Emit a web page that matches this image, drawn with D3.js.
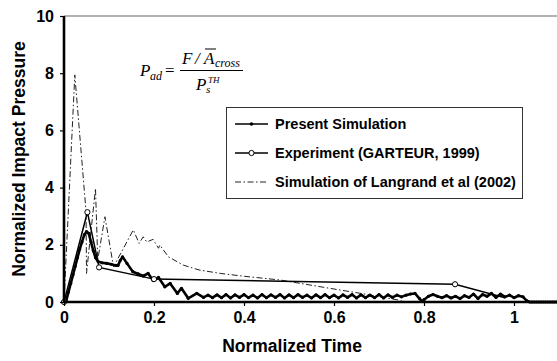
<!DOCTYPE html>
<html>
<head>
<meta charset="utf-8">
<script src="https://cdn.jsdelivr.net/npm/d3@7"></script>
<style>
  body { margin: 0; background: #fff; }
  svg { display: block; font-family: "Liberation Sans", Arial, sans-serif; }
</style>
</head>
<body>
<div id="chart"></div>
<script>
// Present simulation [time, pressure]
const presentSim = [
    [0, 0], [0.005, 0.05], [0.01, 0.35], [0.015, 0.65], [0.02, 0.95], [0.025, 1.25],
    [0.03, 1.55], [0.035, 1.85], [0.04, 2.1], [0.045, 2.35], [0.05, 2.46], [0.055, 2.4],
    [0.06, 2.1], [0.065, 1.8], [0.07, 1.55], [0.076, 1.41], [0.085, 1.37], [0.095, 1.35],
    [0.105, 1.32], [0.115, 1.28], [0.12, 1.28], [0.125, 1.45], [0.13, 1.58], [0.14, 1.35],
    [0.153, 1.06], [0.165, 0.98], [0.176, 0.91], [0.187, 1.0], [0.198, 0.75], [0.21, 0.86],
    [0.224, 0.53], [0.236, 0.65], [0.252, 0.30], [0.261, 0.48], [0.276, 0.13], [0.295, 0.30],
    [0.31, 0.16], [0.32, 0.24], [0.33, 0.15], [0.34, 0.25], [0.35, 0.15], [0.36, 0.26],
    [0.37, 0.14], [0.38, 0.25], [0.39, 0.16], [0.40, 0.26], [0.41, 0.15], [0.42, 0.24],
    [0.43, 0.14], [0.44, 0.26], [0.45, 0.15], [0.46, 0.25], [0.47, 0.16], [0.48, 0.26],
    [0.49, 0.14], [0.50, 0.25], [0.51, 0.15], [0.52, 0.26], [0.53, 0.16], [0.54, 0.24],
    [0.55, 0.14], [0.56, 0.25], [0.57, 0.15], [0.58, 0.26], [0.59, 0.15], [0.60, 0.24],
    [0.61, 0.14], [0.62, 0.25], [0.63, 0.16], [0.64, 0.26], [0.65, 0.14], [0.66, 0.25],
    [0.67, 0.15], [0.68, 0.24], [0.69, 0.15], [0.70, 0.26], [0.71, 0.14], [0.72, 0.25],
    [0.73, 0.16], [0.74, 0.24], [0.75, 0.18], [0.76, 0.24], [0.77, 0.28], [0.78, 0.30],
    [0.79, 0.12], [0.795, 0.02], [0.80, 0.08], [0.81, 0.2], [0.82, 0.26], [0.83, 0.2],
    [0.84, 0.15], [0.85, 0.22], [0.86, 0.14], [0.87, 0.2], [0.88, 0.12], [0.89, 0.22],
    [0.90, 0.16], [0.91, 0.28], [0.92, 0.12], [0.93, 0.26], [0.94, 0.2], [0.95, 0.3],
    [0.96, 0.16], [0.97, 0.28], [0.98, 0.18], [0.99, 0.24], [1.0, 0.15], [1.01, 0.22],
    [1.02, 0.18], [1.028, 0.05], [1.035, 0], [1.04, 0], [1.045, 0], [1.05, 0], [1.055, 0],
    [1.06, 0], [1.065, 0], [1.07, 0], [1.075, 0], [1.08, 0], [1.085, 0], [1.09, 0],
    [1.095, 0], [1.1, 0]
]

// Experiment (GARTEUR, 1999); the last point ends inside the noise, no marker shown
const experiment = [
    [0, 0], [0.052, 3.14], [0.078, 1.21], [0.2, 0.8], [0.869, 0.62], [0.98, 0.15]
]

// Simulation of Langrand et al (2002)
const langrand = [
    [0, 0], [0.024, 7.94], [0.049, 3.16], [0.05, 1.0], [0.07, 3.97], [0.075, 1.47],
    [0.091, 2.98], [0.11, 1.23], [0.154, 2.52], [0.167, 2.05], [0.176, 2.28], [0.184, 2.1],
    [0.198, 2.19], [0.21, 1.88], [0.213, 1.99], [0.232, 1.58], [0.265, 1.29], [0.30, 1.12],
    [0.347, 1.0], [0.40, 0.9], [0.48, 0.77], [0.59, 0.48], [0.66, 0.30], [0.75, 0.05]
]

const xTicks = [0, 0.2, 0.4, 0.6, 0.8, 1]
const yTicks = [0, 2, 4, 6, 8, 10]
const legendLabels = ["Present Simulation", "Experiment (GARTEUR, 1999)", "Simulation of Langrand et al (2002)"]

const width = 557
const height = 361
const margin = { top: 16, right: -2, bottom: 59, left: 64 }

const svg = d3.select("#chart").append("svg")
    .attr("width", width)
    .attr("height", height)

const xScale = d3.scaleLinear()
    .domain([0, 1.1])
    .range([margin.left, width - margin.right])
const yScale = d3.scaleLinear()
    .domain([0, 10])
    .range([height - margin.bottom, margin.top])

// top frame line
svg.append("line")
    .attr("x1", margin.left).attr("x2", width)
    .attr("y1", yScale(10)).attr("y2", yScale(10))
    .attr("stroke", "#666").attr("stroke-width", 1.2)

const line = d3.line()
    .x(d => xScale(d[0]))
    .y(d => yScale(d[1]))

// Langrand (dash-dot)
svg.append("path")
    .datum(langrand)
    .attr("d", line)
    .attr("fill", "none")
    .attr("stroke", "#222")
    .attr("stroke-width", 1)
    .attr("stroke-dasharray", "6,2.5,1.5,2.5")

// Experiment
svg.append("path")
    .datum(experiment)
    .attr("d", line)
    .attr("fill", "none")
    .attr("stroke", "#000")
    .attr("stroke-width", 1.5)

// Present simulation
svg.append("path")
    .datum(presentSim)
    .attr("d", line)
    .attr("fill", "none")
    .attr("stroke", "#000")
    .attr("stroke-width", 2.6)
    .attr("stroke-linejoin", "round")
svg.append("g")
    .selectAll("circle")
    .data(presentSim)
    .enter()
    .append("circle")
    .attr("cx", d => xScale(d[0]))
    .attr("cy", d => yScale(d[1]))
    .attr("r", 1.6)
    .attr("fill", "#000")

svg.append("g")
    .selectAll("circle")
    .data(experiment.slice(0, -1))
    .enter()
    .append("circle")
    .attr("cx", d => xScale(d[0]))
    .attr("cy", d => yScale(d[1]))
    .attr("r", 2.6)
    .attr("fill", "#fff")
    .attr("stroke", "#000")
    .attr("stroke-width", 1)

// axes
const xAxis = svg.append("g")
    .attr("transform", "translate(0," + yScale(0) + ")")
    .call(d3.axisBottom(xScale).tickValues(xTicks).tickFormat(d3.format("")).tickSize(4).tickPadding(6))
const yAxis = svg.append("g")
    .attr("transform", "translate(" + margin.left + ",0)")
    .call(d3.axisLeft(yScale).tickValues(yTicks).tickSize(4).tickPadding(6))

;[xAxis, yAxis].forEach(ax => {
    ax.select(".domain").attr("stroke", "#000").attr("stroke-width", 2.6)
    ax.selectAll(".tick line").attr("stroke", "#000").attr("stroke-width", 1.2)
    ax.selectAll(".tick text")
        .attr("fill", "#000")
        .style("font-size", "16px")
        .style("font-weight", "bold")
        .style("font-family", "'Liberation Sans', Arial, sans-serif")
})
xAxis.select(".domain").attr("d", "M" + margin.left + ",0H" + width)
yAxis.select(".domain").attr("d", "M0," + yScale(0) + "V" + yScale(10))

// axis titles
svg.append("text")
    .attr("x", 292)
    .attr("y", 352)
    .attr("text-anchor", "middle")
    .style("font-size", "17.5px")
    .style("font-weight", "bold")
    .text("Normalized Time")
svg.append("text")
    .attr("transform", "translate(25,159) rotate(-90)")
    .attr("text-anchor", "middle")
    .style("font-size", "17.5px")
    .style("font-weight", "bold")
    .text("Normalized Impact Pressure")

// formula
const formula = svg.append("g")
    .style("font-family", "'Liberation Serif', 'Times New Roman', serif")
    .style("font-style", "italic")
formula.append("text").attr("x", 140).attr("y", 76).style("font-size", "17px").text("P")
formula.append("text").attr("x", 150).attr("y", 80).style("font-size", "12px").text("ad")
formula.append("text").attr("x", 165).attr("y", 76).style("font-size", "17px").style("font-style", "normal").text("=")
formula.append("line")
    .attr("x1", 180).attr("x2", 243).attr("y1", 70.5).attr("y2", 70.5)
    .attr("stroke", "#000").attr("stroke-width", 1)
formula.append("text").attr("x", 182).attr("y", 64).style("font-size", "17px").text("F")
formula.append("text").attr("x", 195).attr("y", 64).style("font-size", "17px").text("/")
formula.append("text").attr("x", 204).attr("y", 64).style("font-size", "17px").text("A")
formula.append("line")
    .attr("x1", 205).attr("x2", 216).attr("y1", 49).attr("y2", 49)
    .attr("stroke", "#000").attr("stroke-width", 1)
formula.append("text").attr("x", 215).attr("y", 67).style("font-size", "12px").text("cross")
formula.append("text").attr("x", 196).attr("y", 90).style("font-size", "17px").text("P")
formula.append("text").attr("x", 206).attr("y", 93).style("font-size", "11px").text("s")
formula.append("text").attr("x", 208).attr("y", 83).style("font-size", "9px").text("TH")

// legend
const legend = svg.append("g")
legend.append("rect")
    .attr("x", 226.5).attr("y", 107.5)
    .attr("width", 296).attr("height", 91)
    .attr("fill", "#fff")
    .attr("stroke", "#333")
    .attr("stroke-width", 1)

const legendY = d3.scalePoint()
    .domain(legendLabels)
    .range([124, 182])

const items = legend.selectAll("g.item")
    .data(legendLabels)
    .enter()
    .append("g")
    .attr("class", "item")
    .attr("transform", d => "translate(0," + legendY(d) + ")")

items.append("line")
    .attr("x1", 235).attr("x2", 268)
    .attr("stroke", (d, i) => i == 2 ? "#222" : "#000")
    .attr("stroke-width", (d, i) => i == 2 ? 1 : 1.5)
    .attr("stroke-dasharray", (d, i) => i == 2 ? "6,2.5,1.5,2.5" : null)
items.filter((d, i) => i == 0).append("circle")
    .attr("cx", 251.5).attr("r", 1.8).attr("fill", "#000")
items.filter((d, i) => i == 1).append("circle")
    .attr("cx", 251.5).attr("r", 2.6).attr("fill", "#fff")
    .attr("stroke", "#000").attr("stroke-width", 1)
items.append("text")
    .attr("x", 275)
    .attr("y", 5)
    .style("font-size", "14.5px")
    .style("font-weight", "bold")
    .text(d => d)
</script>
</body>
</html>
